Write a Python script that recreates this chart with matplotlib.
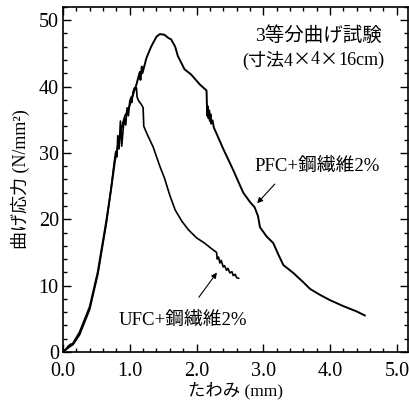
import numpy as np
import matplotlib
matplotlib.use("Agg")
import matplotlib.pyplot as plt
from matplotlib.ticker import MultipleLocator

SERIF = ['Liberation Serif', 'Noto Sans CJK JP']
CJK = ['Noto Sans CJK JP']
plt.rcParams['font.family'] = SERIF

# =============================================================================
# DATA
# =============================================================================
pfc_x = [0.00, 0.05, 0.10, 0.15, 0.25, 0.40, 0.52, 0.65, 0.72, 0.78, 0.82, 0.84,
         0.87, 0.90, 0.93, 0.97, 1.00, 1.05, 1.10, 1.15, 1.16, 1.18, 1.19, 1.25,
         1.32, 1.40, 1.45, 1.52, 1.58, 1.62, 1.68, 1.72, 1.82, 1.92, 2.05, 2.15,
         2.16, 2.17, 2.18, 2.19, 2.20, 2.21, 2.22, 2.24, 2.26, 2.30, 2.40, 2.55,
         2.62, 2.70, 2.80, 2.87, 2.92, 2.95, 3.05, 3.15, 3.22, 3.30, 3.45, 3.60,
         3.70, 3.85, 4.00, 4.20, 4.40, 4.52]
pfc_y = [0.0, 0.4, 0.8, 1.3, 3.0, 6.8, 12.0, 19.8, 24.5, 28.9, 31.0, 32.0,
         33.4, 34.6, 35.6, 36.3, 37.2, 38.8, 40.3, 42.2, 41.0, 43.0, 42.0, 44.3,
         46.0, 47.5, 47.9, 47.8, 47.3, 47.1, 46.0, 44.6, 42.6, 41.8, 40.3, 39.4,
         35.6, 37.0, 35.2, 36.4, 34.8, 35.8, 34.4, 34.9, 33.8, 32.9, 30.6, 27.4,
         25.8, 24.0, 22.6, 21.8, 20.5, 18.8, 17.4, 16.4, 14.8, 13.1, 11.9, 10.5,
         9.5, 8.6, 7.8, 6.9, 6.1, 5.5]

ufc_x = [0.00, 0.05, 0.08, 0.12, 0.10, 0.15, 0.25, 0.40, 0.52, 0.65, 0.72,
         0.77, 0.79, 0.81, 0.82, 0.84, 0.86, 0.88, 0.90, 0.92, 0.94, 0.96,
         0.98, 1.00, 1.02, 1.03, 1.05, 1.07, 1.09, 1.10, 1.11, 1.13, 1.18,
         1.20, 1.21, 1.27, 1.35, 1.45, 1.52, 1.60, 1.68, 1.78, 1.88, 2.00,
         2.12, 2.22, 2.30, 2.31, 2.33, 2.35, 2.37, 2.40, 2.42, 2.45, 2.47,
         2.50, 2.53, 2.55, 2.58, 2.60, 2.63]
ufc_y = [0.0, 0.5, 0.9, 1.2, 0.8, 1.1, 2.6, 6.4, 11.6, 19.4, 24.6,
         28.8, 30.2, 29.4, 32.6, 30.6, 34.8, 31.0, 33.4, 35.2, 34.2, 36.8,
         35.6, 37.8, 38.4, 37.6, 39.2, 39.8, 39.6, 39.8, 38.4, 37.9, 37.2,
         36.8, 34.0, 32.6, 30.9, 28.0, 26.2, 23.6, 21.4, 19.7, 18.4, 17.2,
         16.4, 15.6, 15.0, 14.0, 14.3, 13.4, 13.8, 12.8, 13.0, 12.3, 12.6,
         11.9, 12.1, 11.5, 11.7, 11.2, 11.1]

# annotations (text, text anchor, arrow tail, arrow head)
pfc_label = "PFC+鋼繊維2%"
pfc_text_xy = (2.87, 27.9)
pfc_tail = (3.20, 25.6)
pfc_head = (2.88, 22.1)

ufc_label = "UFC+鋼繊維2%"
ufc_text_xy = (0.83, 4.8)
ufc_tail = (2.01, 7.9)
ufc_head = (2.33, 12.3)

title_line1 = "3等分曲げ試験"
# second title line in pieces so the multiplication sign can be full width
title_line2 = [("(寸法4", SERIF), ("×", CJK), ("4", SERIF), ("×", CJK), ("16cm)", SERIF)]

# =============================================================================
# PLOT
# =============================================================================
fig = plt.figure(figsize=(4.09, 4.05), dpi=100)
ax = fig.add_axes([0.154, 0.131, 0.844, 0.852])

ax.plot(pfc_x, pfc_y, color="black", lw=1.4)
ax.plot(ufc_x, ufc_y, color="black", lw=1.2)

ax.set_xlim(0, 5.17)
ax.set_ylim(0, 52)
ax.xaxis.set_major_locator(MultipleLocator(1.0))
ax.xaxis.set_minor_locator(MultipleLocator(0.2))
ax.yaxis.set_major_locator(MultipleLocator(10))
ax.yaxis.set_minor_locator(MultipleLocator(2))
ax.xaxis.set_major_formatter(plt.FuncFormatter(lambda v, p: f"{v:.1f}"))
ax.tick_params(which="both", direction="in", top=True, right=True, labelsize=14.5)
ax.tick_params(which="major", length=6, width=1)
ax.tick_params(which="minor", length=3, width=1)
ax.tick_params(axis="x", pad=7.5)
ax.tick_params(axis="y", pad=3)
for s in ax.spines.values():
    s.set_linewidth(1.2)

ax.set_xlabel("たわみ (mm)", fontsize=12.5, labelpad=0)
ax.set_ylabel("曲げ応力 (N/mm²)", fontsize=13, labelpad=6)

ax.text(3.82, 47.7, title_line1, ha="center", va="center", fontsize=14)
prev = ax.text(2.68, 44.0, title_line2[0][0], ha="left", va="center",
               fontsize=13, family=title_line2[0][1])
for txt, fam in title_line2[1:]:
    prev = ax.annotate(txt, xy=(1, 0.5), xycoords=prev, ha="left", va="center",
                       fontsize=13, family=fam)

ax.text(*pfc_text_xy, pfc_label, ha="left", va="center", fontsize=13.5)
ax.annotate("", xy=pfc_head, xytext=pfc_tail,
            arrowprops=dict(arrowstyle="-|>", color="black", lw=0.8, mutation_scale=8))
ax.text(*ufc_text_xy, ufc_label, ha="left", va="center", fontsize=13.5)
ax.annotate("", xy=ufc_head, xytext=ufc_tail,
            arrowprops=dict(arrowstyle="-|>", color="black", lw=0.8, mutation_scale=8))

fig.savefig("out.png", dpi=100)
